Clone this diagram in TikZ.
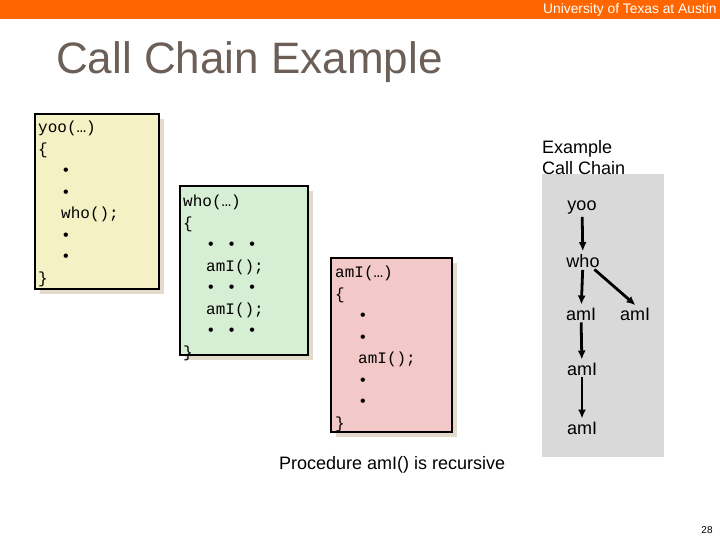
\documentclass[tikz,border=0pt]{standalone}
\usepackage{fontspec}
\setmainfont{Liberation Sans}
\setmonofont{Liberation Mono}
\usetikzlibrary{shapes,arrows,arrows.meta,positioning,calc,shadows}

\definecolor{utorange}{HTML}{FF6600}
\definecolor{titlegray}{HTML}{6B5F58}
\definecolor{yoofill}{HTML}{F4F1C4}
\definecolor{whofill}{HTML}{D6EFD4}
\definecolor{amifill}{HTML}{F2C8C9}
\definecolor{shadowbeige}{HTML}{E2DBCB}
\definecolor{panelgray}{HTML}{D9D9D9}

\begin{document}
\begin{tikzpicture}[x=1pt,y=-1pt,
  codebox/.style={draw=black, line width=1.8pt, anchor=north west, inner sep=0pt,
    drop shadow={shadow xshift=5pt, shadow yshift=-5pt, fill=shadowbeige, opacity=1}},
  code/.style={anchor=north west, inner sep=0pt, align=left,
    font=\ttfamily\fontsize{16}{21.5}\selectfont},
  call/.style={inner sep=1pt, font=\fontsize{18}{21}\selectfont},
  callarrow/.style={-{Latex[length=9pt,width=8pt]}, line width=2.8pt,
    shorten >=2pt, shorten <=1pt}]
\useasboundingbox (0,0) rectangle (720,540);
% banner and title
\fill[utorange] (0,0) rectangle (720,19);
\node[anchor=west, inner sep=0pt, white, font=\fontsize{13.8}{16}\selectfont] (uni) at (543,9.5) {University of Texas at Austin};
\node[anchor=base west, inner sep=0pt, titlegray, font=\fontsize{44}{50}\selectfont] (title) at (56,74) {Call Chain Example};
% procedure boxes
\node[codebox, fill=yoofill, minimum width=124pt, minimum height=175pt] (yooproc) at (34,113) {};
\node[code] (yootext) at ($(yooproc.north west)+(4,8)$) {yoo(…)\\
\{\\
\hspace*{23pt}•\\
\hspace*{23pt}•\\
\hspace*{23pt}who();\\
\hspace*{23pt}•\\
\hspace*{23pt}•\\
\}};
\node[codebox, fill=whofill, minimum width=128pt, minimum height=169pt] (whoproc) at (179,185) {};
\node[code] (whotext) at ($(whoproc.north west)+(4,10)$) {who(…)\\
\{\\
\hspace*{23pt}•\hspace{11pt}•\hspace{11pt}•\\
\hspace*{23pt}amI();\\
\hspace*{23pt}•\hspace{11pt}•\hspace{11pt}•\\
\hspace*{23pt}amI();\\
\hspace*{23pt}•\hspace{11pt}•\hspace{11pt}•\\
\}};
\node[codebox, fill=amifill, minimum width=121pt, minimum height=174pt] (amiproc) at (330,257) {};
\node[code] (amitext) at ($(amiproc.north west)+(5,9)$) {amI(…)\\
\{\\
\hspace*{23pt}•\\
\hspace*{23pt}•\\
\hspace*{23pt}amI();\\
\hspace*{23pt}•\\
\hspace*{23pt}•\\
\}};
% call chain panel
\fill[panelgray] (542,174) rectangle (664,457);
\node[anchor=north west, inner sep=0pt, align=left, font=\fontsize{18}{21}\selectfont] (chainlabel) at (542,140) {Example\\Call Chain};
\node[call] (cYoo) at (582,208) {yoo};
\node[call] (cWho) at (583,261) {who};
\node[call] (cAmi1) at (581,314) {amI};
\node[call] (cAmi2) at (635,314) {amI};
\node[call] (cAmi3) at (582,369) {amI};
\node[call] (cAmi4) at (582,428) {amI};
\draw[callarrow] (cYoo) -- (cWho);
\draw[callarrow] (cWho) -- (cAmi1);
\draw[callarrow] ($(cWho.south east)+(-7,0)$) -- ($(cAmi2.north)+(2,0)$);
\draw[callarrow] (cAmi1) -- (cAmi3);
\draw[callarrow] (cAmi3) -- (cAmi4);
% notes
\node[anchor=west, inner sep=0pt, font=\fontsize{18}{21}\selectfont] (recnote) at (279,465) {Procedure amI() is recursive};
\node[inner sep=0pt, font=\fontsize{10}{12}\selectfont] (pagenum) at (707,530) {28};
\end{tikzpicture}
\end{document}
